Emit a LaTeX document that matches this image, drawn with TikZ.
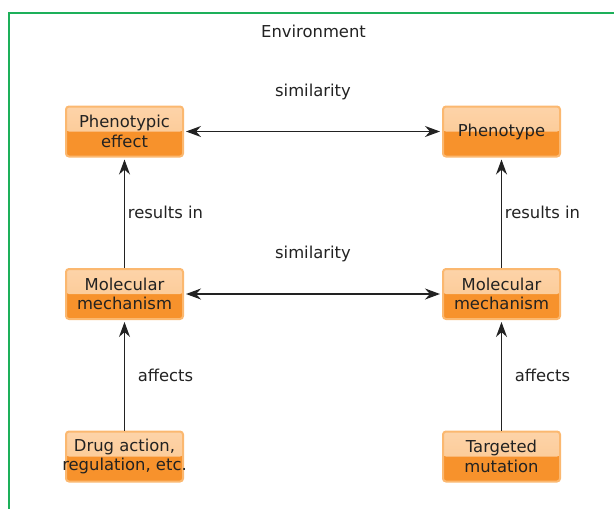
\documentclass[tikz,border=0pt]{standalone}
\usepackage{fontspec}
\setmainfont{DejaVu Sans}
\usetikzlibrary{arrows.meta}
\definecolor{boxlight}{HTML}{FCC58C}
\definecolor{boxdark}{HTML}{F7922C}
\definecolor{boxedge}{HTML}{FBB870}
\definecolor{envgreen}{HTML}{1DB05A}
\definecolor{txt}{HTML}{222222}

\begin{document}
\begin{tikzpicture}[x=1pt,y=-1pt,semithick,
  >={Stealth[length=15pt,width=11pt]},line width=1.3pt,
  font=\fontsize{16.4pt}{19.5pt}\selectfont,text=txt]
  \tikzstyle{box}=[rectangle,rounded corners=3pt,fill=boxdark,draw=boxedge,
    line width=2pt,minimum width=117pt,minimum height=50pt,inner sep=0pt,
    align=center,
    path picture={\fill[top color=boxlight!75!white,bottom color=boxlight]
      (path picture bounding box.north west) rectangle
      (path picture bounding box.east);}]
  \tikzstyle{link}=[draw=txt,line width=1.3pt,shorten >=2pt,shorten <=2pt]

  \useasboundingbox (0,0) rectangle (614,509);
  \draw[envgreen,line width=1.5pt] (9,13) rectangle (625,520);
  \node (env) at (313.5,31) {Environment};

  \node[box] (pheff) at (124.5,131.5) {Phenotypic\\effect};
  \node[box] (phen)  at (501.5,131.5) {Phenotype};
  \node[box] (molL)  at (124.5,294)   {Molecular\\mechanism};
  \node[box] (molR)  at (501.5,294)   {Molecular\\mechanism};
  \node[box] (drug)  at (124.5,456.5) {Drug action,\\\makebox[110pt]{regulation, etc.}};
  \node[box] (targ)  at (501.5,456.5) {Targeted\\mutation};

  \path (pheff) edge [link,<->] node [yshift=40pt] {similarity} (phen)
        (molL)  edge [link,<->] node [yshift=40pt] {similarity} (molR)
        (molL)  edge [link,->,shorten <=0pt] node [xshift=41pt] {results in} (pheff)
        (molR)  edge [link,->,shorten <=0pt] node [xshift=41pt] {results in} (phen)
        (drug)  edge [link,->,shorten <=0pt] node [xshift=41pt] {affects} (molL)
        (targ)  edge [link,->,shorten <=0pt] node [xshift=41pt] {affects} (molR);
\end{tikzpicture}
\end{document}
